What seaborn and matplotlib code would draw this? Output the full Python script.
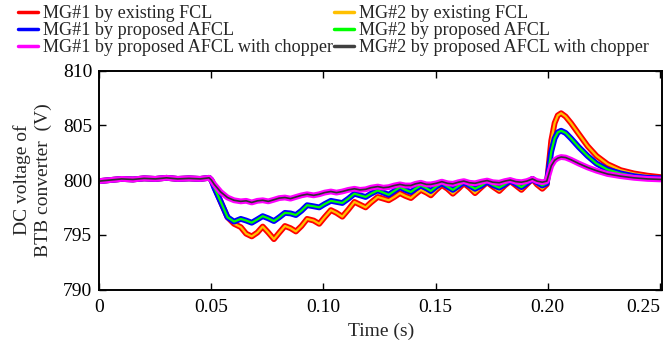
import numpy as np
import pandas as pd
import matplotlib
matplotlib.use('Agg')
import matplotlib.pyplot as plt
from matplotlib.lines import Line2D
import seaborn as sns

# tempo (s) e tensao DC (V)
t = [0.000, 0.005, 0.010, 0.015, 0.020, 0.025, 0.030, 0.035, 0.040, 0.045, 0.049,
     0.0500, 0.0513, 0.0542, 0.0572, 0.0601, 0.0631, 0.0655, 0.0680, 0.0705, 0.0729,
     0.0754, 0.0779, 0.0803, 0.0828, 0.0853, 0.0877, 0.0902, 0.0927, 0.0956, 0.0981,
     0.1005, 0.1033, 0.1058, 0.1084, 0.1111, 0.1138, 0.1163, 0.1188, 0.1212, 0.1242,
     0.1267, 0.1291, 0.1316, 0.1341, 0.1365, 0.1390, 0.1410, 0.1434, 0.1459, 0.1479,
     0.1503, 0.1528, 0.1553, 0.1577, 0.1602, 0.1626, 0.1651, 0.1676, 0.1705, 0.1730,
     0.1755, 0.1784, 0.1809, 0.1833, 0.1858, 0.1883, 0.1907, 0.1932, 0.1952, 0.1976,
     0.1996, 0.2016, 0.2031, 0.2045, 0.2060, 0.2080, 0.2104, 0.2139, 0.2178, 0.2218,
     0.2267, 0.2326, 0.2385, 0.2445, 0.2510]

pre = [799.9, 800.0, 800.1, 800.05, 800.15, 800.1, 800.2, 800.1, 800.15, 800.1, 800.2]

mg1_fcl = pre + [800.0, 799.4, 798.0, 796.6, 796.0, 795.7, 795.1, 794.85, 795.2, 795.75,
                 795.2, 794.6, 795.2, 795.8, 795.6, 795.3, 795.8, 796.45, 796.3, 796.0,
                 796.6, 797.25, 797.0, 796.65, 797.3, 798.0, 797.75, 797.5, 797.95, 798.45,
                 798.3, 798.15, 798.45, 798.8, 798.55, 798.35, 798.7, 799.1, 798.85, 798.6,
                 799.1, 799.55, 799.2, 798.75, 799.2, 799.7, 799.3, 798.8, 799.35, 799.8,
                 799.4, 799.0, 799.5, 799.9, 799.5, 799.1, 799.6, 800.1, 799.6, 799.2,
                 799.6, 803.6, 805.2, 805.9, 806.1, 805.8, 805.2, 804.2, 803.1, 802.2,
                 801.45, 800.9, 800.6, 800.4, 800.25]

mg1_afcl = pre + [800.0, 799.3, 798.0, 796.6, 796.2, 796.45, 796.3, 796.1, 796.4, 796.7,
                  796.5, 796.25, 796.6, 797.0, 796.95, 796.8, 797.2, 797.7, 797.6, 797.5,
                  797.8, 798.1, 798.0, 797.9, 798.3, 798.75, 798.6, 798.45, 798.75, 799.05,
                  798.85, 798.65, 799.0, 799.35, 799.1, 798.9, 799.2, 799.5, 799.25, 799.0,
                  799.4, 799.7, 799.4, 799.1, 799.45, 799.8, 799.5, 799.2, 799.5, 799.85,
                  799.55, 799.3, 799.6, 799.95, 799.65, 799.35, 799.7, 800.1, 799.8, 799.5,
                  799.7, 802.6, 803.8, 804.35, 804.5, 804.3, 803.8, 803.0, 802.2, 801.5,
                  800.95, 800.6, 800.35, 800.2, 800.15]

mg1_chop = pre + [800.0, 799.6, 798.9, 798.4, 798.15, 798.05, 798.1, 797.95, 798.1, 798.15,
                  798.05, 798.2, 798.35, 798.4, 798.3, 798.45, 798.6, 798.7, 798.6, 798.7,
                  798.85, 798.95, 798.85, 798.95, 799.1, 799.2, 799.1, 799.15, 799.3, 799.4,
                  799.3, 799.35, 799.5, 799.6, 799.5, 799.5, 799.65, 799.75, 799.6, 799.6,
                  799.7, 799.85, 799.7, 799.65, 799.8, 799.9, 799.75, 799.7, 799.85, 799.95,
                  799.8, 799.75, 799.9, 800.0, 799.85, 799.8, 799.9, 800.1, 799.9, 799.8,
                  799.9, 801.3, 801.8, 802.0, 802.1, 802.05, 801.85, 801.5, 801.15, 800.85,
                  800.55, 800.35, 800.2, 800.1, 800.05]

# MG#2 praticamente coincide com MG#1
mg2_fcl = list(mg1_fcl)
mg2_afcl = list(mg1_afcl)
mg2_chop = list(mg1_chop)

df = pd.DataFrame({'t': t, 'mg1_fcl': mg1_fcl, 'mg2_fcl': mg2_fcl,
                   'mg1_afcl': mg1_afcl, 'mg2_afcl': mg2_afcl,
                   'mg1_chop': mg1_chop, 'mg2_chop': mg2_chop})

sns.set_style('ticks')
plt.rcParams['font.family'] = ['Liberation Serif', 'DejaVu Serif']

fig = plt.figure(figsize=(6.65, 3.44), dpi=100)
ax = fig.add_axes([0.1493, 0.1584, 0.8462, 0.6366])

# (coluna, cor, largura)
series = [
    ('mg1_fcl', '#ff0000', 4.2), ('mg2_fcl', '#ffc000', 1.6),
    ('mg1_afcl', '#0000ff', 4.2), ('mg2_afcl', '#00ff00', 1.6),
    ('mg1_chop', '#ff00ff', 4.2), ('mg2_chop', '#303030', 1.2),
]
for col, cor, lw in series:
    sns.lineplot(data=df, x='t', y=col, ax=ax, color=cor, lw=lw)

ax.set_xlim(0, 0.251)
ax.set_ylim(790, 810)
ax.set_xticks([0, 0.05, 0.10, 0.15, 0.20, 0.25])
ax.set_xticklabels(['0', '0.05', '0.10', '0.15', '0.20', '0.25'])
ax.get_xticklabels()[-1].set_horizontalalignment('right')
ax.set_yticks([790, 795, 800, 805, 810])
ax.tick_params(direction='in', length=5, width=1, top=True, right=True,
               labelsize=14, colors='black')
ax.tick_params(axis='x', pad=7)
ax.tick_params(axis='y', pad=5)
for s in ax.spines.values():
    s.set_visible(True)
    s.set_linewidth(1.4)
    s.set_color('black')
ax.set_xlabel('Time (s)', fontsize=14, labelpad=5)
ax.set_ylabel('DC voltage of\nBTB converter  (V)', fontsize=14, labelpad=8,
              linespacing=1.3)

handles = [
    Line2D([], [], color='#ff0000', lw=2.5), Line2D([], [], color='#0000ff', lw=2.5),
    Line2D([], [], color='#ff00ff', lw=2.5), Line2D([], [], color='#ffc000', lw=2.5),
    Line2D([], [], color='#00ff00', lw=2.5), Line2D([], [], color='#404040', lw=2.5),
]
labels = ['MG#1 by existing FCL', 'MG#1 by proposed AFCL',
          'MG#1 by proposed AFCL with chopper', 'MG#2 by existing FCL',
          'MG#2 by proposed AFCL', 'MG#2 by proposed AFCL with chopper']
fig.legend(handles, labels, ncol=2, loc='upper left', bbox_to_anchor=(18 / 665, 0.985),
           frameon=False, fontsize=13.1, handlelength=1.1, handletextpad=0.25,
           columnspacing=0.1, labelspacing=0.0, borderaxespad=0, borderpad=0)

fig.savefig('out.png', dpi=100)
